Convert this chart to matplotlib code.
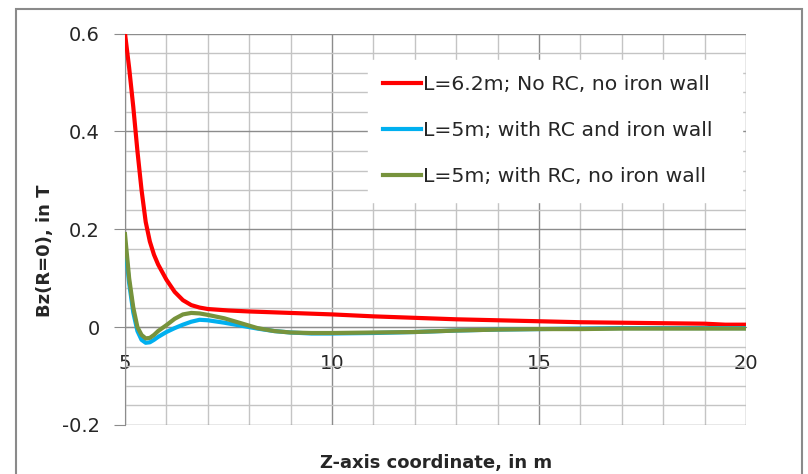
import numpy as np
import matplotlib
matplotlib.use('Agg')
import matplotlib.pyplot as plt
from matplotlib.patches import Rectangle

# Bz on the axis (R=0) along z, three magnet configurations
z_red = [5.0, 5.1, 5.2, 5.3, 5.4, 5.5, 5.6, 5.7, 5.8, 6.0, 6.2, 6.4, 6.6, 6.8, 7.0,
         7.5, 8, 9, 10, 11, 12, 13, 14, 15, 16, 17, 18, 19, 19.5, 20]
bz_red = [0.60, 0.53, 0.45, 0.36, 0.28, 0.215, 0.175, 0.148, 0.128, 0.097, 0.072,
          0.055, 0.045, 0.040, 0.037, 0.034, 0.032, 0.029, 0.026, 0.022, 0.019,
          0.016, 0.014, 0.012, 0.010, 0.009, 0.008, 0.007, 0.005, 0.005]

z_rc = [5.0, 5.1, 5.2, 5.3, 5.4, 5.5, 5.6, 5.7, 5.8, 6.0, 6.2, 6.4, 6.6, 6.8, 7.0,
        7.4, 7.8, 8.2, 8.6, 9.0, 9.5, 10, 11, 12, 13, 14, 15, 16, 17, 18, 19, 20]
bz_blue = [0.17, 0.09, 0.03, -0.008, -0.026, -0.032, -0.031, -0.026, -0.020, -0.010,
           -0.002, 0.005, 0.011, 0.015, 0.014, 0.009, 0.003, -0.003, -0.008, -0.011,
           -0.013, -0.013, -0.012, -0.010, -0.007, -0.005, -0.004, -0.003, -0.002,
           -0.002, -0.002, -0.002]
bz_green = [0.19, 0.10, 0.04, 0.0, -0.016, -0.023, -0.022, -0.016, -0.008, 0.004,
            0.017, 0.026, 0.029, 0.028, 0.025, 0.018, 0.008, -0.002, -0.008, -0.011,
            -0.012, -0.012, -0.011, -0.010, -0.007, -0.005, -0.004, -0.004, -0.003,
            -0.003, -0.003, -0.003]

labels = ['L=6.2m; No RC, no iron wall',
          'L=5m; with RC and iron wall',
          'L=5m; with RC, no iron wall']
colors = ['#ff0000', '#00b0f0', '#77933c']

W, H = 808, 474
fig = plt.figure(figsize=(W / 100, H / 100), dpi=100)
ax = fig.add_axes([125 / W, 1 - 425 / H, 621 / W, 391.5 / H])

# outer chart frame
fig.patches.append(Rectangle((16 / W, -0.05), (802 - 16) / W, 1 - 9 / H + 0.05,
                             transform=fig.transFigure, fill=False,
                             edgecolor='#8a8a8a', lw=1.5))

ax.plot(z_red, bz_red, color=colors[0], lw=3, label=labels[0], zorder=3)
ax.plot(z_rc, bz_blue, color=colors[1], lw=3, label=labels[1], zorder=3)
ax.plot(z_rc, bz_green, color=colors[2], lw=3, label=labels[2], zorder=4)

ax.set_xlim(5, 20)
ax.set_ylim(-0.2, 0.6)
ax.set_xticks([5, 10, 15, 20])
ax.set_xticks(np.arange(5, 21, 1), minor=True)
ax.set_yticks([-0.2, 0, 0.2, 0.4, 0.6])
ax.set_yticks(np.arange(-0.2, 0.601, 0.04), minor=True)
ax.set_yticklabels(['-0.2', '0', '0.2', '0.4', '0.6'])

ax.grid(which='minor', color='#c4c4c4', lw=1.0)
ax.grid(which='major', color='#8c8c8c', lw=1.0)
ax.set_axisbelow(True)

for s in ['top', 'right']:
    ax.spines[s].set_visible(False)
ax.spines['left'].set_color('#8c8c8c')
ax.spines['bottom'].set_position(('data', 0))
ax.spines['bottom'].set_color('#8c8c8c')

ax.tick_params(axis='y', which='major', length=8, color='#8c8c8c', pad=10,
               labelsize=14, labelcolor='#262626')
ax.tick_params(axis='x', which='major', length=0, pad=19,
               labelsize=14, labelcolor='#262626')
ax.tick_params(which='minor', length=0)

# legend box stretched to the right edge of the plot
leg = ax.legend(loc='upper left', bbox_to_anchor=(0.391, 0.5, 0.602, 0.432),
                mode='expand', borderaxespad=0,
                fontsize=14.7, frameon=True, fancybox=False, handlelength=1.85,
                handletextpad=0.1, labelspacing=1.32, borderpad=0.75)
leg.get_frame().set_facecolor('white')
leg.get_frame().set_edgecolor('white')
leg.get_frame().set_alpha(1)
for t in leg.get_texts():
    t.set_color('#262626')

fig.text(45 / W, 1 - 251 / H, 'Bz(R=0), in T', rotation=90, ha='center', va='center',
         fontsize=13, fontweight='bold', color='#262626')
fig.text(436 / W, 1 - 463 / H, 'Z-axis coordinate, in m', ha='center', va='center',
         fontsize=13, fontweight='bold', color='#262626')

fig.savefig('out.png', dpi=100)
